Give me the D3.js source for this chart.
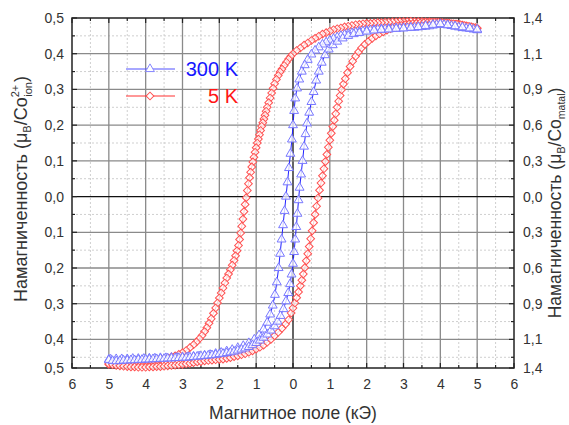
<!DOCTYPE html>
<html>
<head>
<meta charset="utf-8">
<script src="https://cdn.jsdelivr.net/npm/d3@7"></script>
<style>
  body { margin: 0; background: #fff; }
  svg text { font-family: "Liberation Sans", Arial, sans-serif; }
</style>
</head>
<body>
<div id="plot"></div>
<script>
// Field (kOe) and magnetization (muB / Co ion)
var red5Down = [
  [5.0,.470],[4.9,.473],[4.8,.476],[4.7,.478],[4.6,.480],[4.5,.482],[4.4,.483],[4.3,.484],[4.2,.486],[4.1,.486],
  [4.0,.487],[3.9,.488],[3.8,.488],[3.7,.489],[3.6,.489],[3.5,.490],[3.4,.490],[3.3,.490],[3.2,.491],[3.1,.490],
  [3.0,.490],[2.9,.490],[2.8,.489],[2.7,.489],[2.6,.488],[2.5,.488],[2.4,.487],[2.3,.487],[2.2,.486],[2.1,.485],
  [2.0,.485],[1.9,.484],[1.8,.482],[1.7,.481],[1.6,.479],[1.5,.477],[1.4,.475],[1.3,.472],[1.2,.470],[1.1,.467],
  [1.0,.463],[0.9,.459],[0.8,.455],[0.7,.449],[0.6,.443],[0.5,.437],[0.4,.430],[0.3,.424],[0.2,.416],[0.1,.409],
  [0.0,.400],[-0.06,.393],[-0.12,.385],[-0.18,.376],[-0.24,.367],[-0.30,.357],[-0.35,.349],[-0.40,.339],[-0.45,.328],
  [-0.50,.316],[-0.54,.303],[-0.58,.290],[-0.62,.276],[-0.66,.263],[-0.70,.250],[-0.73,.239],[-0.76,.228],[-0.79,.217],
  [-0.82,.207],[-0.85,.197],[-0.88,.185],[-0.91,.173],[-0.94,.161],[-0.97,.150],[-1.00,.137],[-1.03,.124],[-1.06,.110],
  [-1.09,.097],[-1.12,.083],[-1.15,.068],[-1.18,.053],[-1.21,.036],[-1.24,.017],[-1.27,-.003],[-1.30,-.022],[-1.33,-.042],
  [-1.36,-.063],[-1.39,-.083],[-1.42,-.102],[-1.45,-.120],[-1.48,-.137],[-1.52,-.152],[-1.56,-.166],[-1.60,-.179],
  [-1.65,-.192],[-1.70,-.205],[-1.75,-.217],[-1.80,-.228],[-1.85,-.242],[-1.90,-.256],[-1.95,-.270],[-2.00,-.284],
  [-2.05,-.298],[-2.10,-.312],[-2.16,-.327],[-2.22,-.342],[-2.28,-.355],[-2.34,-.367],[-2.40,-.378],[-2.47,-.389],
  [-2.54,-.398],[-2.62,-.407],[-2.70,-.415],[-2.80,-.423],[-2.90,-.431],[-3.00,-.437],[-3.1,-.442],[-3.2,-.446],
  [-3.3,-.449],[-3.4,-.452],[-3.5,-.454],[-3.6,-.456],[-3.7,-.458],[-3.8,-.459],[-3.9,-.460],[-4.0,-.461],[-4.1,-.462],
  [-4.2,-.463],[-4.3,-.464],[-4.4,-.465],[-4.5,-.466],[-4.6,-.467],[-4.7,-.468],[-4.8,-.469],[-4.9,-.470],[-5.0,-.470]
];
var red5Up = [
  [-5.0,-.468],[-4.9,-.471],[-4.8,-.473],[-4.7,-.474],[-4.6,-.475],[-4.5,-.476],[-4.4,-.477],[-4.3,-.477],[-4.2,-.478],
  [-4.1,-.478],[-4.0,-.478],[-3.9,-.477],[-3.8,-.477],[-3.7,-.476],[-3.6,-.476],[-3.5,-.475],[-3.4,-.474],[-3.3,-.473],
  [-3.2,-.472],[-3.1,-.471],[-3.0,-.470],[-2.9,-.468],[-2.8,-.467],[-2.7,-.465],[-2.6,-.463],[-2.5,-.462],[-2.4,-.460],
  [-2.3,-.459],[-2.2,-.458],[-2.1,-.457],[-2.0,-.456],[-1.9,-.455],[-1.8,-.453],[-1.7,-.451],[-1.6,-.448],[-1.5,-.446],
  [-1.4,-.443],[-1.3,-.440],[-1.2,-.436],[-1.1,-.432],[-1.0,-.427],[-0.9,-.422],[-0.8,-.416],[-0.7,-.408],[-0.6,-.400],
  [-0.5,-.390],[-0.4,-.380],[-0.3,-.369],[-0.2,-.357],[-0.12,-.345],[-0.05,-.326],[0.0,-.312],[0.05,-.298],[0.10,-.283],
  [0.15,-.267],[0.20,-.250],[0.24,-.234],[0.28,-.217],[0.32,-.199],[0.36,-.180],[0.40,-.160],[0.44,-.140],[0.48,-.118],
  [0.52,-.096],[0.56,-.073],[0.60,-.050],[0.64,-.027],[0.68,-.004],[0.72,.018],[0.76,.038],[0.80,.058],[0.84,.078],
  [0.88,.098],[0.92,.118],[0.96,.138],[1.00,.158],[1.04,.177],[1.08,.196],[1.12,.214],[1.16,.232],[1.20,.250],
  [1.24,.267],[1.28,.283],[1.32,.299],[1.37,.315],[1.42,.330],[1.48,.347],[1.55,.364],[1.62,.379],[1.70,.393],
  [1.78,.405],[1.86,.416],[1.95,.426],[2.05,.435],[2.15,.443],[2.25,.450],[2.35,.456],[2.45,.461],[2.55,.466],
  [2.65,.470],[2.75,.474],[2.85,.477],[2.95,.479],[3.05,.481],[3.15,.483],[3.25,.484],[3.35,.485],[3.45,.486],
  [3.55,.487],[3.65,.487],[3.75,.488],[3.85,.488],[3.95,.488],[4.05,.487],[4.15,.486],[4.25,.485],[4.35,.484],
  [4.45,.483],[4.55,.481],[4.65,.479],[4.75,.477],[4.85,.475],[4.95,.473],[5.0,.472]
];
var blue300Down = [
  [5.0,.466],[4.9,.468],[4.8,.470],[4.7,.471],[4.6,.472],[4.5,.474],[4.4,.476],[4.3,.478],[4.2,.480],[4.1,.481],
  [4.0,.482],[3.9,.481],[3.8,.479],[3.7,.477],[3.6,.476],[3.5,.475],[3.4,.474],[3.3,.473],[3.2,.473],[3.1,.472],
  [3.0,.472],[2.9,.471],[2.8,.471],[2.7,.470],[2.6,.470],[2.5,.469],[2.4,.469],[2.3,.468],[2.2,.467],[2.1,.466],
  [2.0,.465],[1.9,.463],[1.8,.462],[1.7,.460],[1.6,.458],[1.5,.456],[1.4,.453],[1.3,.450],[1.2,.446],[1.1,.442],
  [1.0,.437],[0.9,.432],[0.8,.426],[0.7,.418],[0.6,.409],[0.5,.398],[0.4,.383],[0.32,.368],[0.24,.350],[0.17,.328],
  [0.11,.303],[0.06,.275],[0.03,.240],[0.0,.200],[-0.03,.160],[-0.07,.120],[-0.11,.080],[-0.15,.040],[-0.19,.000],
  [-0.23,-.040],[-0.27,-.080],[-0.31,-.120],[-0.35,-.160],[-0.39,-.200],[-0.44,-.240],[-0.49,-.275],[-0.55,-.305],
  [-0.62,-.330],[-0.70,-.353],[-0.80,-.372],[-0.92,-.388],[-1.05,-.400],[-1.2,-.410],[-1.35,-.418],[-1.5,-.424],
  [-1.65,-.429],[-1.8,-.433],[-1.95,-.437],[-2.1,-.440],[-2.25,-.443],[-2.4,-.445],[-2.55,-.447],[-2.7,-.448],
  [-2.85,-.449],[-3.0,-.450],[-3.15,-.451],[-3.3,-.451],[-3.45,-.452],[-3.6,-.452],[-3.75,-.453],[-3.9,-.453],
  [-4.05,-.454],[-4.2,-.454],[-4.35,-.454],[-4.5,-.455],[-4.65,-.455],[-4.8,-.455],[-4.95,-.456],[-5.0,-.456]
];
var blue300Up = [
  [-5.0,-.458],[-4.9,-.460],[-4.8,-.461],[-4.7,-.460],[-4.6,-.459],[-4.5,-.459],[-4.4,-.458],[-4.3,-.458],[-4.2,-.457],
  [-4.1,-.457],[-4.0,-.456],[-3.9,-.456],[-3.8,-.455],[-3.7,-.455],[-3.6,-.454],[-3.5,-.454],[-3.4,-.453],[-3.3,-.453],
  [-3.2,-.452],[-3.1,-.452],[-3.0,-.451],[-2.9,-.451],[-2.8,-.450],[-2.7,-.449],[-2.6,-.448],[-2.5,-.447],[-2.4,-.446],
  [-2.3,-.445],[-2.2,-.444],[-2.1,-.443],[-2.0,-.441],[-1.9,-.440],[-1.8,-.438],[-1.7,-.436],[-1.6,-.434],[-1.5,-.431],
  [-1.4,-.428],[-1.3,-.425],[-1.2,-.421],[-1.1,-.416],[-1.0,-.410],[-0.9,-.403],[-0.8,-.395],[-0.7,-.386],[-0.6,-.375],
  [-0.5,-.363],[-0.42,-.350],[-0.34,-.334],[-0.26,-.315],[-0.19,-.293],[-0.13,-.270],[-0.08,-.245],[-0.04,-.218],
  [0.00,-.188],[0.03,-.155],[0.06,-.120],[0.09,-.085],[0.12,-.048],[0.15,-.010],[0.18,.025],[0.22,.062],[0.26,.100],
  [0.30,.140],[0.34,.175],[0.38,.205],[0.44,.235],[0.50,.265],[0.56,.293],[0.63,.325],[0.70,.350],[0.78,.375],
  [0.87,.396],[0.97,.412],[1.08,.424],[1.2,.434],[1.35,.443],[1.5,.450],[1.65,.455],[1.8,.458],[2.0,.462],[2.2,.465],
  [2.4,.467],[2.6,.468],[2.8,.470],[3.0,.471],[3.2,.473],[3.4,.475],[3.6,.478],[3.8,.481],[4.0,.483],[4.2,.480],
  [4.4,.477],[4.6,.474],[4.8,.471],[5.0,.468]
];

// Tick values and labels
var xTicks = [-6, -5, -4, -3, -2, -1, 0, 1, 2, 3, 4, 5, 6];
var xTickLabels = ["6", "5", "4", "3", "2", "1", "0", "1", "2", "3", "4", "5", "6"];
var yTicks = [-0.48, -0.4, -0.3, -0.2, -0.1, 0, 0.1, 0.2, 0.3, 0.4, 0.5];
var yLeftLabels = ["0,5", "0,4", "0,3", "0,2", "0,1", "0,0", "0,1", "0,2", "0,3", "0,4", "0,5"];
var yRightLabels = ["1,4", "1,1", "0,9", "0,6", "0,3", "0,0", "0,3", "0,6", "0,9", "1,1", "1,4"];
var xMinor = [-5.5, -4.5, -3.5, -2.5, -1.5, -0.5, 0.5, 1.5, 2.5, 3.5, 4.5, 5.5];
var yMinor = [-0.45, -0.35, -0.25, -0.15, -0.05, 0.05, 0.15, 0.25, 0.35, 0.45];

var margin = {top: 18, right: 55, bottom: 57, left: 72},
    width = 569 - margin.left - margin.right,
    height = 425 - margin.top - margin.bottom;

var svg = d3.select("#plot")
  .append("svg")
    .attr("width", width + margin.left + margin.right)
    .attr("height", height + margin.top + margin.bottom)
  .append("g")
    .attr("transform", `translate(${margin.left},${margin.top})`);

var x = d3.scaleLinear().domain([-6, 6]).range([0, width]);
var y = d3.scaleLinear().domain([-0.48, 0.5]).range([height, 0]);

// minor dotted grid
svg.append("g").selectAll("line").data(xMinor).join("line")
  .attr("x1", d => x(d)).attr("x2", d => x(d)).attr("y1", 0).attr("y2", height)
  .attr("stroke", "#cfcfcf").attr("stroke-dasharray", "2,2");
svg.append("g").selectAll("line").data(yMinor).join("line")
  .attr("y1", d => y(d)).attr("y2", d => y(d)).attr("x1", 0).attr("x2", width)
  .attr("stroke", "#cfcfcf").attr("stroke-dasharray", "2,2");

// major grid
svg.append("g").selectAll("line").data(xTicks.slice(1, -1)).join("line")
  .attr("x1", d => x(d)).attr("x2", d => x(d)).attr("y1", 0).attr("y2", height)
  .attr("stroke", d => d === 0 ? "#111" : "#8a8a8a").attr("stroke-width", 1.3);
svg.append("g").selectAll("line").data(yTicks.slice(1, -1)).join("line")
  .attr("y1", d => y(d)).attr("y2", d => y(d)).attr("x1", 0).attr("x2", width)
  .attr("stroke", d => d === 0 ? "#111" : "#8a8a8a").attr("stroke-width", 1.3);

// inward tick marks on all four sides
function ticks(vals, len) {
  var g = svg.append("g").attr("stroke", "#222").attr("stroke-width", 1.2);
  vals.forEach(function(v) {
    g.append("line").attr("x1", x(v)).attr("x2", x(v)).attr("y1", height).attr("y2", height - len);
    g.append("line").attr("x1", x(v)).attr("x2", x(v)).attr("y1", 0).attr("y2", len);
  });
}
function yticks(vals, len) {
  var g = svg.append("g").attr("stroke", "#222").attr("stroke-width", 1.2);
  vals.forEach(function(v) {
    g.append("line").attr("y1", y(v)).attr("y2", y(v)).attr("x1", 0).attr("x2", len);
    g.append("line").attr("y1", y(v)).attr("y2", y(v)).attr("x1", width).attr("x2", width - len);
  });
}
ticks(xTicks, 5); ticks(xMinor, 3);
yticks(yTicks, 5); yticks(yMinor, 3);

// axes labels via d3 axes
var bottomAxis = svg.append("g").attr("transform", `translate(0,${height})`)
  .call(d3.axisBottom(x).tickValues(xTicks).tickSize(0).tickPadding(11)
    .tickFormat((d, i) => xTickLabels[i]));
var leftAxis = svg.append("g")
  .call(d3.axisLeft(y).tickValues(yTicks).tickSize(0).tickPadding(8)
    .tickFormat((d, i) => yLeftLabels[i]));
var rightAxis = svg.append("g").attr("transform", `translate(${width},0)`)
  .call(d3.axisRight(y).tickValues(yTicks).tickSize(0).tickPadding(9)
    .tickFormat((d, i) => yRightLabels[i]));
[bottomAxis, leftAxis, rightAxis].forEach(function(a) {
  a.select(".domain").remove();
  a.selectAll("text").style("font-size", "14px").attr("fill", "#333");
});

// frame
svg.append("rect").attr("width", width).attr("height", height)
  .attr("fill", "none").attr("stroke", "#222").attr("stroke-width", 1.5);

// series
var line = d3.line().x(d => x(d[0])).y(d => y(d[1]));
var triangle = d3.symbol().type(d3.symbolTriangle).size(34);
var diamond = d3.symbol().type(d3.symbolSquare).size(30);

function drawSeries(branches, lineColor, markColor, sym, rotate) {
  branches.forEach(function(b) {
    svg.append("path").datum(b).attr("d", line)
      .attr("fill", "none").attr("stroke", lineColor).attr("stroke-width", 1);
  });
  branches.forEach(function(b) {
    svg.append("g").selectAll("path").data(b).join("path")
      .attr("d", sym)
      .attr("transform", d => `translate(${x(d[0])},${y(d[1])}) rotate(${rotate})`)
      .attr("fill", "#fff").attr("fill-opacity", 0.75)
      .attr("stroke", markColor).attr("stroke-width", 1);
  });
}
drawSeries([red5Down, red5Up], "#ff2020", "#ff5050", diamond, 45);
drawSeries([blue300Down, blue300Up], "#2020ff", "#7878ff", triangle, 0);

// legend
var legend = svg.append("g");
var legendItems = [
  {label: "300 K", color: "#1515ff", lineColor: "#5050ff", mark: "#8888ff", sym: triangle, rot: 0, yv: 51},
  {label: "5 K", color: "#ff1515", lineColor: "#ff3030", mark: "#ff5050", sym: diamond, rot: 45, yv: 78}
];
legendItems.forEach(function(it) {
  legend.append("line").attr("x1", 54).attr("x2", 103).attr("y1", it.yv).attr("y2", it.yv)
    .attr("stroke", it.lineColor).attr("stroke-width", 1);
  legend.append("path").attr("d", it.sym)
    .attr("transform", `translate(78,${it.yv}) rotate(${it.rot})`)
    .attr("fill", "#fff").attr("stroke", it.mark);
  legend.append("text").attr("x", 166).attr("y", it.yv + 7)
    .attr("text-anchor", "end").attr("fill", it.color)
    .style("font-size", "20px").text(it.label);
});

// axis titles
svg.append("text").attr("x", width / 2).attr("y", height + 51)
  .attr("text-anchor", "middle").attr("fill", "#333").style("font-size", "17.5px")
  .text("Магнитное поле (кЭ)");

var lt = svg.append("text")
  .attr("transform", `translate(-45,${height / 2 - 4}) rotate(-90)`)
  .attr("text-anchor", "middle").attr("fill", "#333").style("font-size", "18px");
lt.append("tspan").text("Намагниченность (μ");
lt.append("tspan").attr("dy", 4).style("font-size", "11px").text("B");
lt.append("tspan").attr("dy", -4).text("/Co");
lt.append("tspan").attr("dy", -8).style("font-size", "11px").text("2+");
lt.append("tspan").attr("dx", -12).attr("dy", 13).style("font-size", "11px").text("ion");
lt.append("tspan").attr("dy", -5).text(")");

var rt = svg.append("text")
  .attr("transform", `translate(${width + 47},${height / 2 + 10}) rotate(-90)`)
  .attr("text-anchor", "middle").attr("fill", "#333").style("font-size", "17.5px");
rt.append("tspan").text("Намагниченность (μ");
rt.append("tspan").attr("dy", 4).style("font-size", "11px").text("B");
rt.append("tspan").attr("dy", -4).text("/Co");
rt.append("tspan").attr("dy", 4).style("font-size", "10.5px").text("matal");
rt.append("tspan").attr("dy", -4).text(")");
</script>
</body>
</html>
